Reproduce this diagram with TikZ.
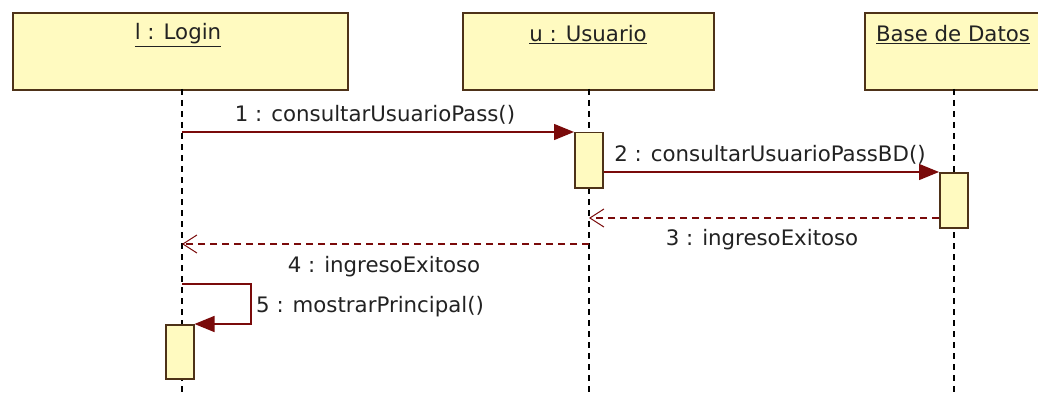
\documentclass[tikz,border=0pt]{standalone}
\usepackage{fontspec}
\setmainfont{DejaVu Sans}
\usetikzlibrary{arrows.meta}
\definecolor{boxfill}{HTML}{FFFAC0}
\definecolor{boxdraw}{HTML}{4E3218}
\definecolor{msg}{HTML}{7A0A0A}
\definecolor{txt}{HTML}{222222}
\begin{document}
\begin{tikzpicture}[x=1pt,y=-1pt,
  font=\fontsize{21.3}{25}\selectfont, text=txt,
  header/.style={draw=boxdraw, fill=boxfill, line width=1.6pt, inner sep=0pt, anchor=north west, minimum height=77pt},
  activation/.style={draw=boxdraw, fill=boxfill, line width=1.5pt, inner sep=0pt, anchor=north west, minimum width=28pt},
  lifeline/.style={draw=black, line width=1.4pt, dash pattern=on 6pt off 5pt},
  call/.style={draw=msg, line width=1.4pt, -{Triangle[length=20pt,width=16pt,fill=msg]}},
  reply/.style={draw=msg, line width=1.2pt, dash pattern=on 7pt off 5pt, -{Straight Barb[length=14pt,width=18pt,line width=1pt]}},
  msglabel/.style={inner sep=0pt}]
\useasboundingbox (0,0) rectangle (1038,393);
\fill[white] (0,0) rectangle (1038,393);
% headers
\node[header, minimum width=335pt] (L) at (12,12) {};
\node[inner sep=0pt] (Lt) at (178,35) {\underline{l : Login}};
\node[header, minimum width=251pt] (U) at (462,12) {};
\node[inner sep=0pt] (Ut) at (588,35) {\underline{u : Usuario}};
\node[header, minimum width=175pt] (B) at (864,12) {};
\node[inner sep=0pt] (Bt) at (953,35) {\underline{Base de Datos}};
% lifeline ends
\coordinate (Lbot) at (182,393);
\coordinate (Ubot) at (589,393);
\coordinate (Bbot) at (954,393);
\coordinate (Ltop) at (182,89);
\coordinate (Utop) at (589,89);
\coordinate (Btop) at (954,89);
\draw[lifeline] (Ltop) -- (Lbot);
\draw[lifeline] (Utop) -- (Ubot);
\draw[lifeline] (Btop) -- (Bbot);
% activations
\node[activation, minimum height=55pt] (A1) at (574,132) {};
\node[activation, minimum height=55pt] (A2) at (939,172) {};
\node[activation, minimum height=54pt] (A3) at (165,324) {};
% message 1
\coordinate (m1s) at (182,132);
\draw[call] (m1s) -- (A1.north west);
\node[msglabel] (l1) at (375,115) {1 : consultarUsuarioPass()};
% message 2
\draw[call] (A1.east |- A2.north) -- (A2.north west);
\node[msglabel] (l2) at (770,155) {2 : consultarUsuarioPassBD()};
% message 3
\coordinate (m3s) at (939,218);
\coordinate (m3e) at (589,218);
\draw[reply] (m3s) -- (m3e);
\node[msglabel] (l3) at (762,240) {3 : ingresoExitoso};
% message 4
\coordinate (m4s) at (589,244);
\coordinate (m4e) at (182,244);
\draw[reply] (m4s) -- (m4e);
\node[msglabel] (l4) at (384,267) {4 : ingresoExitoso};
% message 5
\coordinate (m5s) at (182,284);
\coordinate (m5a) at (251,284);
\coordinate (m5b) at (251,324);
\draw[call] (m5s) -- (m5a) -- (m5b) -- (A3.north east);
\node[msglabel, anchor=west] (l5) at (256,307) {5 : mostrarPrincipal()};
\end{tikzpicture}
\end{document}
